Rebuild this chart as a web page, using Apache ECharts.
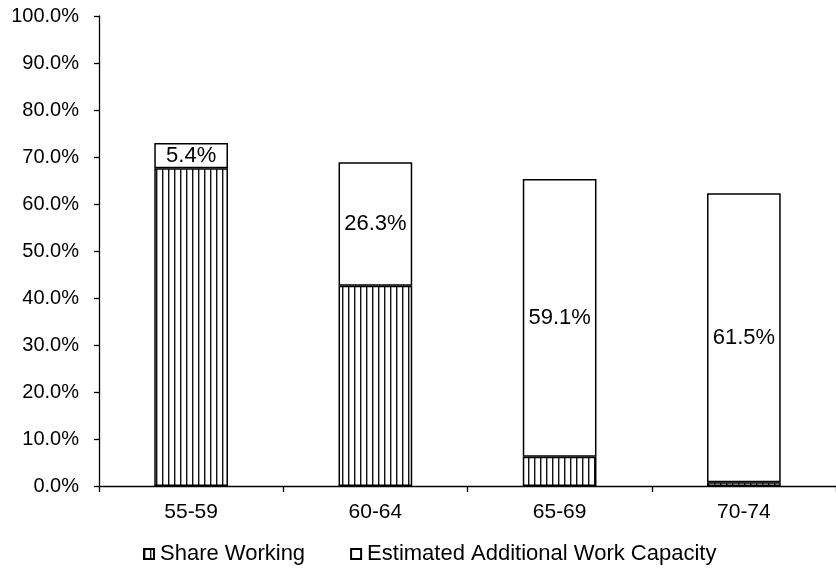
<!DOCTYPE html>
<html>
<head>
<meta charset="utf-8">
<script src="https://cdn.jsdelivr.net/npm/echarts@6/dist/echarts.min.js"></script>
<style>
  html, body { margin: 0; padding: 0; background: #fff; }
  #chart { width: 836px; height: 571px; }
</style>
</head>
<body>
<div id="chart"></div>
<script>
// Age groups and shares (percent of population)
const ageGroups = ['55-59', '60-64', '65-69', '70-74'];
const shareWorking = [67.6, 42.6, 6.2, 0.8];
const additionalCapacity = [5.4, 26.3, 59.1, 61.5];
const yTicks = [0, 10, 20, 30, 40, 50, 60, 70, 80, 90, 100];

// Vertical hatch fill for the working share
function makeStripes() {
  const c = document.createElement('canvas');
  c.width = 6; c.height = 6;
  const ctx = c.getContext('2d');
  ctx.fillStyle = '#fff';
  ctx.fillRect(0, 0, 6, 6);
  ctx.fillStyle = '#111';
  ctx.fillRect(0, 0, 1.4, 6);
  return c;
}

const font = '"Liberation Sans", Arial, sans-serif';
const chart = echarts.init(document.getElementById('chart'));
chart.setOption({
  animation: false,
  textStyle: { fontFamily: font },
  grid: { left: 99, right: 0, top: 16, bottom: 85, containLabel: false },
  legend: {
    bottom: 6,
    left: 143,
    padding: 0,
    icon: 'rect',
    itemWidth: 10,
    itemHeight: 10,
    itemGap: 45,
    textStyle: { fontSize: 22, color: '#000', fontFamily: font, padding: [0, 0, 0, 1] },
    data: ['Share Working', 'Estimated Additional Work Capacity']
  },
  xAxis: {
    type: 'category',
    data: ageGroups,
    axisLine: { lineStyle: { color: '#000', width: 1.3 } },
    axisTick: { show: true, alignWithLabel: false, length: 6, lineStyle: { color: '#000', width: 1.3 } },
    axisLabel: { fontSize: 21, color: '#000', margin: 16 }
  },
  yAxis: {
    type: 'value',
    min: yTicks[0],
    max: yTicks[yTicks.length - 1],
    interval: 10,
    splitLine: { show: false },
    axisLine: { show: true, lineStyle: { color: '#000', width: 1.3 } },
    axisTick: { show: true, length: 5, lineStyle: { color: '#000', width: 1.3 } },
    axisLabel: { fontSize: 20, color: '#000', margin: 20, formatter: v => v.toFixed(1) + '%' }
  },
  series: [
    {
      name: 'Share Working',
      type: 'bar',
      stack: 'total',
      barWidth: '40%',
      data: shareWorking,
      itemStyle: {
        color: { image: makeStripes(), repeat: 'repeat' },
        borderColor: '#000',
        borderWidth: 1.5
      }
    },
    {
      name: 'Estimated Additional Work Capacity',
      type: 'bar',
      stack: 'total',
      barWidth: '40%',
      data: additionalCapacity,
      itemStyle: { color: '#fff', borderColor: '#000', borderWidth: 1.5 },
      label: {
        show: true,
        position: 'inside',
        fontSize: 22,
        color: '#000',
        fontFamily: font,
        formatter: p => p.value.toFixed(1) + '%'
      }
    }
  ]
});
</script>
</body>
</html>
